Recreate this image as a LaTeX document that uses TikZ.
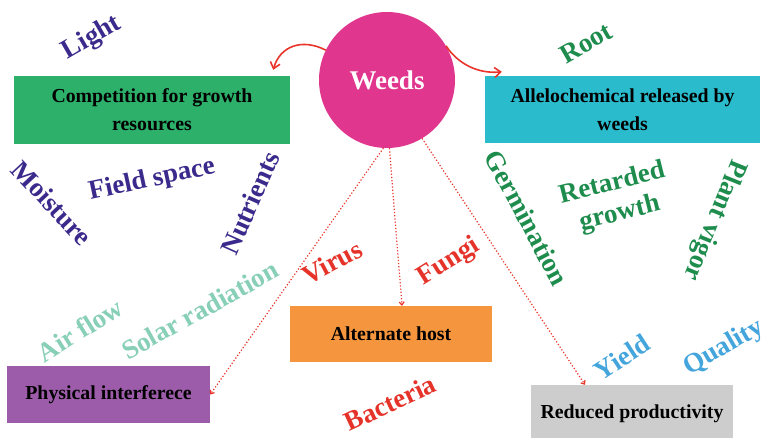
\documentclass[tikz,border=0pt]{standalone}
\usepackage{fontspec}
\setmainfont{Liberation Serif}
\usetikzlibrary{arrows.meta}
\definecolor{weedpink}{HTML}{E0368E}
\definecolor{boxgreen}{HTML}{2DB06A}
\definecolor{boxcyan}{HTML}{2ABCCC}
\definecolor{boxpurple}{HTML}{9C5CAA}
\definecolor{boxorange}{HTML}{F5963E}
\definecolor{boxgray}{HTML}{CDCDCD}
\definecolor{txtblue}{HTML}{3B2A8C}
\definecolor{txtgreen}{HTML}{1D8C4C}
\definecolor{txtred}{HTML}{E5332A}
\definecolor{txtteal}{HTML}{88CFB8}
\definecolor{txtsky}{HTML}{44A5DD}
\definecolor{arrred}{HTML}{E8342A}
\begin{document}
\begin{tikzpicture}[x=1pt,y=-1pt,
  box/.style={rectangle, inner sep=0pt, align=center, text=black,
    font=\bfseries\fontsize{19.8}{28}\selectfont},
  lbl/.style={inner sep=0pt, align=center, font=\bfseries\fontsize{27}{31}\selectfont},
  curvearr/.style={draw=arrred, line width=1.6pt, -{Straight Barb[length=6pt,width=10pt]}},
  dotarr/.style={draw=arrred, line width=1.2pt, dotted, -{Straight Barb[length=3pt,width=5pt]}}]
\useasboundingbox (0,0) rectangle (762,437);
\clip (0,0) rectangle (762,437);
\fill[white] (0,0) rectangle (762,437);

% central circle
\node[circle, fill=weedpink, minimum size=136pt, inner sep=0pt, text=white,
  font=\bfseries\fontsize{27}{27}\selectfont] (weeds) at (387,80) {Weeds};

% boxes
\node[box, fill=boxgreen, minimum width=276pt, minimum height=68pt] (comp) at (152,110)
  {Competition for growth\\resources};
\node[box, fill=boxcyan, minimum width=275pt, minimum height=67pt] (allelo) at (622.5,109.5)
  {Allelochemical released by\\weeds};
\node[box, fill=boxpurple, minimum width=203pt, minimum height=57pt] (phys) at (108.5,394.5)
  {Physical interferece};
\node[box, fill=boxorange, minimum width=202pt, minimum height=56pt] (alt) at (391,334)
  {Alternate host};
\node[box, fill=boxgray, minimum width=202pt, minimum height=58pt] (prod) at (632,414)
  {Reduced productivity};

% connectors
\draw[curvearr] (weeds.154) .. controls (302,38) and (280,46) .. ([xshift=-17pt,yshift=6pt]comp.north east);
\draw[curvearr] (weeds.30) .. controls (458,64) and (478,74) .. ([xshift=17pt,yshift=4pt]allelo.north west);
\draw[dotarr] (weeds.-93) -- (phys.east);
\draw[dotarr] (weeds.-88) -- ([xshift=11pt]alt.north);
\draw[dotarr] (weeds.-59) -- ([xshift=-47pt]prod.north);

% labels: resources
\node[lbl, text=txtblue, rotate=30] (light) at (92,38) {Light};
\node[lbl, text=txtblue, rotate=-47] (moist) at (52,203) {Moisture};
\node[lbl, text=txtblue, rotate=12] (field) at (152,180) {Field space};
\node[lbl, text=txtblue, rotate=66] (nutr) at (250,203) {Nutrients};
\node[lbl, text=txtteal, rotate=29] (solar) at (200,310) {Solar radiation};
\node[lbl, text=txtteal, rotate=32] (air) at (80,330) {Air flow};
% pathogens
\node[lbl, text=txtred, rotate=28] (virus) at (332,262) {Virus};
\node[lbl, text=txtred, rotate=32] (fungi) at (449,262) {Fungi};
\node[lbl, text=txtred, rotate=25] (bact) at (390,403) {Bacteria};
% allelochemical
\node[lbl, text=txtgreen, rotate=30] (root) at (586,43) {Root};
\node[lbl, text=txtgreen, rotate=-62] (germ) at (527,218) {Germination};
\node[lbl, text=txtgreen, rotate=14] (retard) at (616,199) {Retarded\\growth};
\node[lbl, text=txtgreen, rotate=-112] (vigor) at (714,220) {Plant vigor};
% productivity
\node[lbl, text=txtsky, rotate=33] (yield) at (622,357) {Yield};
\node[lbl, text=txtsky, rotate=30] (qual) at (724,348) {Quality};
\end{tikzpicture}
\end{document}
